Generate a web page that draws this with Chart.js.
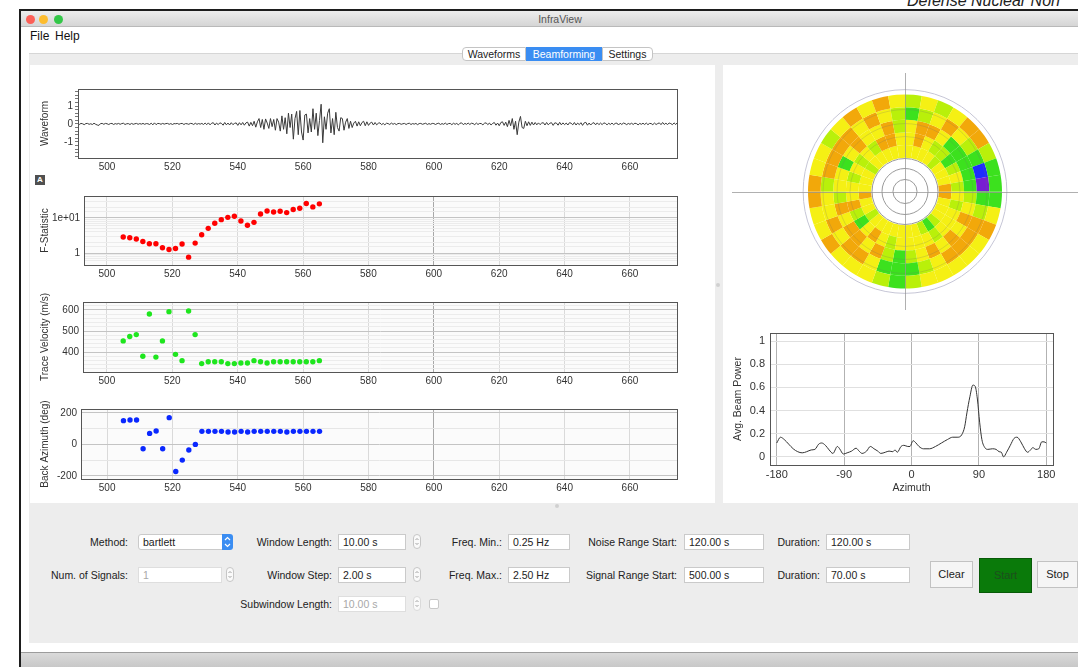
<!DOCTYPE html>
<html>
<head>
<meta charset="utf-8">
<title>InfraView</title>
<script src="https://cdn.jsdelivr.net/npm/chart.js@4.4.1/dist/chart.umd.min.js"></script>
<style>
body { margin: 0; width: 1078px; height: 667px; overflow: hidden; background: #fff; position: relative; font-family: "Liberation Sans", Arial, sans-serif; color: #222; }
div, canvas { position: absolute; box-sizing: border-box; }
.dn { left: 907px; top: -8px; font-size: 16px; font-style: italic; color: #222; white-space: nowrap; }
.win { left: 19px; top: 9px; width: 1080px; height: 680px; border-left: 2px solid #1d1d1d; border-top: 2px solid #1d1d1d; background: #fff; }
.titlebar { left: 21px; top: 11px; width: 1060px; height: 16px; background: linear-gradient(#ededed, #d5d5d5); border-bottom: 1px solid #b9b9b9; }
.dot { width: 9px; height: 9px; border-radius: 50%; top: 15px; }
.ttl { left: 530px; top: 13px; width: 60px; text-align: center; font-size: 10.5px; color: #555; }
.menu { top: 29px; font-size: 12px; color: #111; }
.pane { left: 29px; top: 53px; width: 1060px; height: 590px; background: #ededed; border-top: 1px solid #d6d6d6; }
.panel { background: #fff; top: 65px; height: 438px; }
.tab { top: 47px; height: 14px; border: 1px solid #c4c4c4; background: #fff; font-size: 10.5px; text-align: center; line-height: 12px; color: #222; }
.tab.on { background: #3a8df2; border-color: #3a8df2; color: #fff; }
.lbl { font-size: 10.5px; text-align: right; height: 16px; line-height: 16px; color: #222; white-space: nowrap; }
.inp { height: 16px; border: 1px solid #cacaca; background: #fff; font-size: 10.5px; line-height: 14px; padding-left: 4px; color: #222; }
.inp.off { color: #a8a8a8; border-color: #dedede; }
.spin { width: 8px; height: 15px; border: 1px solid #c6c6c6; border-radius: 4px; background: #fafafa; }
.btn { height: 27px; border: 1px solid #c2c2c2; background: #f5f5f5; font-size: 11px; text-align: center; line-height: 25px; color: #222; }
.status { left: 21px; top: 652px; width: 1060px; height: 15px; border-top: 1px solid #9c9c9c; background: linear-gradient(#dadada, #c8c8c8); }
</style>
</head>
<body>
<div class="dn">Defense Nuclear Non</div>
<div class="win"></div>
<div class="titlebar"></div>
<div class="dot" style="left:26px;background:#fc5f57"></div>
<div class="dot" style="left:39px;background:#fdbc2e"></div>
<div class="dot" style="left:54px;background:#33c748"></div>
<div class="ttl">InfraView</div>
<div class="menu" style="left:30px">File</div>
<div class="menu" style="left:55px">Help</div>

<div class="pane"></div>
<div class="panel" style="left:30px;width:685px"></div>
<div class="panel" style="left:723px;width:360px"></div>
<div class="tab" style="left:462px;width:64px;border-radius:4px 0 0 4px">Waveforms</div>
<div class="tab on" style="left:526px;width:76px">Beamforming</div>
<div class="tab" style="left:602px;width:51px;border-radius:0 4px 4px 0">Settings</div>
<div style="left:716px;top:283px;width:4px;height:4px;background:#d0d0d0;border-radius:2px"></div>
<div style="left:555px;top:504px;width:4px;height:4px;background:#d0d0d0;border-radius:2px"></div>

<canvas id="waveChart" width="686" height="103" style="left:29px;top:77px"></canvas>
<div style="left:35px;top:175px;width:10px;height:10px;background:#505050;color:#fff;font-size:8px;font-weight:bold;text-align:center;line-height:10px">A</div>
<canvas id="fstatChart" width="686" height="103" style="left:29px;top:184px"></canvas>
<canvas id="velChart" width="686" height="104" style="left:29px;top:290px"></canvas>
<canvas id="bazChart" width="686" height="104" style="left:29px;top:397px"></canvas>
<canvas id="polarChart" width="355" height="253" style="left:723px;top:65px"></canvas>
<canvas id="beamChart" width="355" height="183" style="left:723px;top:320px"></canvas>

<!-- controls -->
<div class="lbl" style="left:40px;width:88px;top:534px">Method:</div>
<div class="inp" style="left:138px;top:534px;width:85px;border-radius:3px 0 0 3px">bartlett</div>
<div style="left:222px;top:534px;width:11px;height:16px;background:#3a8df2;border-radius:0 3px 3px 0">
  <svg width="11" height="16" style="position:absolute;left:0;top:0"><polyline points="3,6 5.5,3.5 8,6" fill="none" stroke="#fff" stroke-width="1.2"/><polyline points="3,10 5.5,12.5 8,10" fill="none" stroke="#fff" stroke-width="1.2"/></svg>
</div>
<div class="lbl" style="left:30px;width:98px;top:567px">Num. of Signals:</div>
<div class="inp off" style="left:138px;top:567px;width:84px">1</div>
<div class="spin" style="left:226px;top:567px"></div>

<div class="lbl" style="left:230px;width:102px;top:534px">Window Length:</div>
<div class="inp" style="left:338px;top:534px;width:68px">10.00 s</div>
<div class="spin" style="left:413px;top:534px"></div>
<div class="lbl" style="left:230px;width:102px;top:567px">Window Step:</div>
<div class="inp" style="left:338px;top:567px;width:68px">2.00 s</div>
<div class="spin" style="left:413px;top:567px"></div>
<div class="lbl" style="left:230px;width:102px;top:596px">Subwindow Length:</div>
<div class="inp off" style="left:338px;top:596px;width:68px">10.00 s</div>
<div class="spin" style="left:413px;top:596px;border-color:#dadada"></div>
<div style="left:429px;top:599px;width:10px;height:10px;border:1px solid #c8c8c8;border-radius:2px;background:#fff"></div>

<div class="lbl" style="left:430px;width:72px;top:534px">Freq. Min.:</div>
<div class="inp" style="left:508px;top:534px;width:62px">0.25 Hz</div>
<div class="lbl" style="left:430px;width:72px;top:567px">Freq. Max.:</div>
<div class="inp" style="left:508px;top:567px;width:62px">2.50 Hz</div>

<div class="lbl" style="left:570px;width:107px;top:534px">Noise Range Start:</div>
<div class="inp" style="left:684px;top:534px;width:80px">120.00 s</div>
<div class="lbl" style="left:570px;width:107px;top:567px">Signal Range Start:</div>
<div class="inp" style="left:684px;top:567px;width:80px">500.00 s</div>

<div class="lbl" style="left:770px;width:50px;top:534px">Duration:</div>
<div class="inp" style="left:826px;top:534px;width:84px">120.00 s</div>
<div class="lbl" style="left:770px;width:50px;top:567px">Duration:</div>
<div class="inp" style="left:826px;top:567px;width:84px">70.00 s</div>

<div class="btn" style="left:930px;top:561px;width:43px">Clear</div>
<div class="btn" style="left:979px;top:558px;width:53px;height:35px;line-height:33px;background:#0a7a0a;border-color:#075a07;color:#1d4f1d">Start</div>
<div class="btn" style="left:1037px;top:561px;width:41px">Stop</div>

<div class="status"></div>

<script>
Chart.defaults.animation = false;
Chart.defaults.font.family = "'Liberation Sans', Arial, sans-serif";
Chart.defaults.font.size = 10;
Chart.defaults.color = "#333";

// beamforming results, one value per analysis window
const scanTimes = [505, 507, 509, 511, 513, 515, 517, 519, 521, 523, 525, 527, 529, 531, 533, 535,
    537, 539, 541, 543, 545, 547, 549, 551, 553, 555, 557, 559, 561, 563, 565];
const fStat = [2.87, 2.74, 2.51, 2.15, 1.85, 1.85, 1.42, 1.27, 1.36, 1.81, 0.77, 1.93, 3.34, 5.06, 7.05, 8.93,
    10.4, 11.2, 8.2, 6.2, 7.5, 13.0, 15.8, 14.8, 15.5, 14.2, 17.3, 18.9, 25.7, 20.6, 25.1];
const traceVelocity = [453, 474, 483, 380, 581, 376, 453, 592, 389, 359, 595, 483, 345, 354, 354, 354,
    345, 345, 348, 348, 359, 354, 348, 354, 354, 354, 354, 354, 354, 354, 359];
const backAzimuth = [151, 155, 155, -28, 70, 85, -28, 170, -172, -100, -36, 0, 83, 83, 83, 83,
    79, 79, 83, 79, 83, 83, 83, 83, 83, 79, 83, 83, 83, 83, 83];

// waveform, sampled every 0.5 s from 491 s
const waveStart = 491;
const waveStep = 0.5;
const waveValues = [
    0.02, -0.03, 0.03, 0.01, -0.04, 0.02, 0.03, -0.02, 0.01, -0.03, 0.04, -0.02, -0.06, -0.08, 0.02, 0.03, -0.02, 0.03, 0.01, -0.03,
    0.02, 0.03, -0.03, 0.02, -0.01, 0.03, -0.02, 0.02, 0.04, -0.03, 0.01, 0.02, -0.03, 0.03, -0.02, 0.01, 0.03, -0.02, 0.02, -0.01,
    0.03, -0.02, 0.02, 0.01, -0.03, 0.04, -0.05, 0.06, -0.04, 0.03, 0.02, -0.02, 0.03, -0.01, 0.02, 0.03, -0.02, 0.02, -0.03, 0.02,
    0.01, 0.03, -0.02, 0.02, 0.03, -0.03, 0.02, 0.01, -0.02, 0.03, 0.02, -0.03, 0.04, -0.02, 0.02, -0.01, 0.03, -0.03, 0.05, -0.04,
    0.06, -0.05, 0.04, 0.07, -0.06, 0.05, -0.04, 0.06, 0.03, -0.07, 0.08, -0.05, 0.05, -0.06, 0.07, -0.04, 0.03, 0.06, -0.08, 0.07,
    -0.05, 0.08, -0.07, 0.06, 0.1, -0.12, 0.09, -0.1, 0.15, -0.18, 0.12, 0.3, -0.2, 0.25, -0.3, 0.28, 0.05, -0.25, 0.3, -0.15,
    0.25, -0.35, 0.3, 0.1, -0.4, 0.45, -0.3, 0.35, -0.55, 0.6, -0.2, 0.55, -0.85, 0.3, 0.7, -0.6, 0.75, -0.45, -0.9, 0.5,
    0.55, -0.5, 0.3, -0.45, 0.85, -0.3, 0.6, -0.65, 0.2, 1.1, -1.05, 0.4, -0.3, 0.6, 0.85, -0.5, 0.3, -0.6, 0.65, -0.2,
    -0.4, 0.35, 0.3, -0.35, 0.1, 0.3, -0.25, 0.15, -0.2, 0.05, 0.15, -0.12, 0.12, -0.1, 0.08, 0.15, -0.1, 0.12, -0.08, 0.05,
    0.1, -0.06, 0.08, -0.05, 0.04, 0.06, -0.04, 0.03, -0.05, 0.04, 0.02, -0.03, 0.05, -0.02, 0.03, -0.04, 0.02, 0.03, -0.02, 0.01,
    0.03, -0.03, 0.02, 0.04, -0.03, 0.02, -0.01, 0.03, -0.04, 0.02, 0.03, -0.02, 0.01, 0.04, -0.03, 0.02, -0.02, 0.03, 0.02, -0.03,
    0.02, 0.04, -0.03, 0.02, -0.02, 0.05, -0.03, 0.02, 0.03, -0.04, 0.04, -0.02, 0.03, -0.05, 0.04, 0.06, -0.04, 0.03, -0.02, 0.05,
    -0.03, 0.04, 0.02, -0.04, 0.05, -0.03, 0.03, 0.02, -0.05, 0.04, 0.06, -0.04, 0.05, -0.06, 0.03, 0.08, -0.07, 0.05, -0.1, 0.08,
    0.12, -0.08, 0.1, -0.15, 0.2, -0.1, 0.3, -0.3, 0.15, -0.6, 0.1, 0.42, -0.2, -0.25, 0.15, -0.1, 0.12, -0.08, 0.1, -0.06,
    0.08, -0.05, 0.06, -0.04, 0.05, 0.07, -0.06, 0.08, -0.05, 0.04, 0.07, -0.08, 0.06, 0.05, -0.07, 0.09, -0.05, 0.06, -0.04, 0.05,
    -0.06, 0.07, 0.04, -0.05, 0.08, -0.06, 0.05, -0.04, 0.07, -0.08, 0.06, 0.09, -0.07, 0.05, -0.06, 0.04, 0.07, -0.05, 0.06, -0.04,
    0.05, -0.04, 0.06, 0.03, -0.05, 0.04, -0.03, 0.05, -0.04, 0.03, 0.05, -0.06, 0.04, -0.03, 0.05, 0.02, -0.04, 0.03, -0.02, 0.04,
    -0.03, 0.04, 0.02, -0.05, 0.03, -0.02, 0.04, -0.03, 0.05, -0.04, 0.03, 0.02, -0.04, 0.05, -0.03, 0.02, 0.06, -0.04, 0.08, -0.03,
    0.04, -0.03, 0.05, 0.02, -0.04, 0.06, -0.03, 0.07, -0.02, 0.05, 0.04
];

// average beam power vs azimuth
const beamAz = [-180, -175, -170, -164, -158, -152, -146, -140, -134, -129, -124, -120, -115, -110, -105, -99,
    -96, -91, -86, -80, -74, -70, -66, -60, -55, -50, -45, -41, -35, -30, -25, -22, -19, -14, -10, -5, -2,
    2, 6, 10, 16, 24, 32, 40, 48, 55, 62, 67, 71, 74, 78, 82, 85, 88, 91, 94, 98, 102, 108, 113, 117, 120,
    123, 127, 132, 137, 141, 146, 151, 155, 159, 162, 166, 170, 174, 177, 180];
const beamPower = [0.12, 0.17, 0.15, 0.11, 0.07, 0.045, 0.035, 0.045, 0.06, 0.065, 0.11, 0.12, 0.1, 0.06, 0.03, 0.09,
    0.07, 0.025, 0.035, 0.05, 0.075, 0.05, 0.03, 0.05, 0.09, 0.07, 0.05, 0.03, 0.04, 0.05, 0.045, 0.06, 0.04, 0.09, 0.1, 0.09, 0.09,
    0.14, 0.12, 0.09, 0.07, 0.07, 0.09, 0.12, 0.15, 0.17, 0.17, 0.19, 0.26, 0.38, 0.52, 0.62, 0.61, 0.5, 0.3, 0.15, 0.08, 0.065, 0.07, 0.065, 0.045, 0.04,
    0.0, 0.04, 0.1, 0.16, 0.17, 0.13, 0.07, 0.04, 0.06, 0.08, 0.065, 0.07, 0.13, 0.13, 0.12];

// slowness-azimuth beam power, 10 deg sectors clockwise from north, inner ring to outer ring
const ring1 = [0.4, 0.4, 0.4, 0.4, 0.55, 0.4, 0.4, 0.4, 0.2, 0.2, 0.4, 0.4, 0.4, 0.55, 0.7, 0.55, 0.4, 0.4,
    0.4, 0.4, 0.4, 0.4, 0.4, 0.55, 0.4, 0.4, 0.2, 0.4, 0.4, 0.4, 0.55, 0.4, 0.4, 0.4, 0.4, 0.4];
const ring2 = [0.4, 0.2, 0.4, 0.55, 0.55, 0.7, 0.55, 0.4, 0.55, 0.4, 0.55, 0.4, 0.4, 0.4, 0.55, 0.4, 0.4, 0.4,
    0.4, 0.55, 0.4, 0.2, 0.4, 0.7, 0.55, 0.2, 0.4, 0.4, 0.55, 0.4, 0.55, 0.4, 0.55, 0.2, 0.2, 0.4];
const ring3 = [0.4, 0.2, 0.2, 0.4, 0.7, 0.7, 0.7, 0.7, 0.7, 0.55, 0.4, 0.2, 0.4, 0.2, 0.4, 0.2, 0.4, 0.55,
    0.7, 0.55, 0.2, 0.4, 0.2, 0.2, 0.4, 0.2, 0.55, 0.4, 0.4, 0.7, 0.4, 0.2, 0.4, 0.4, 0.2, 0.55];
const ring4 = [0.7, 0.55, 0.4, 0.2, 0.4, 0.55, 0.7, 0.9, 1.0, 0.7, 0.55, 0.2, 0.2, 0.2, 0.2, 0.4, 0.55, 0.7,
    0.7, 0.7, 0.4, 0.2, 0.2, 0.4, 0.2, 0.4, 0.4, 0.55, 0.2, 0.2, 0.2, 0.2, 0.4, 0.2, 0.4, 0.55];
const ring5 = [0.55, 0.4, 0.55, 0.4, 0.2, 0.2, 0.55, 0.7, 0.7, 0.7, 0.4, 0.2, 0.4, 0.4, 0.4, 0.4, 0.4, 0.55,
    0.7, 0.55, 0.4, 0.4, 0.4, 0.2, 0.4, 0.4, 0.2, 0.2, 0.4, 0.4, 0.55, 0.4, 0.2, 0.4, 0.2, 0.4];

// colour stops for the polar map
const mapStops = [[0.2, [242, 168, 10]], [0.4, [245, 240, 20]], [0.55, [185, 240, 10]], [0.7, [60, 225, 30]],
    [0.9, [30, 45, 255]], [1.0, [120, 30, 210]]];

function mapColor(v) {
    for (let i = 1; i < mapStops.length; i++) {
        if (v <= mapStops[i][0]) {
            const a = mapStops[i - 1], b = mapStops[i];
            const f = Math.max(0, (v - a[0]) / (b[0] - a[0]));
            const c = a[1].map((k, j) => Math.round(k + (b[1][j] - k) * f));
            return "rgb(" + c.join(",") + ")";
        }
    }
    return "rgb(120,30,210)";
}

// up/down arrows for the spin boxes
document.querySelectorAll(".spin").forEach((el) => {
    el.innerHTML = '<svg width="6" height="13" style="position:absolute;left:0;top:0">' +
        '<polyline points="1.5,5 3,3.5 4.5,5" fill="none" stroke="#999" stroke-width="0.9"/>' +
        '<polyline points="1.5,8 3,9.5 4.5,8" fill="none" stroke="#999" stroke-width="0.9"/></svg>';
});

// plot background and box outline
const framePlugin = {
    id: "frame",
    beforeDraw(chart, args, opts) {
        if (!opts.fill) return;
        const a = chart.chartArea;
        const ctx = chart.ctx;
        ctx.save();
        ctx.fillStyle = opts.fill;
        ctx.fillRect(a.left, a.top, a.right - a.left, a.bottom - a.top);
        ctx.restore();
    },
    afterDraw(chart, args, opts) {
        if (!opts.stroke) return;
        const a = chart.chartArea;
        const ctx = chart.ctx;
        ctx.save();
        ctx.strokeStyle = opts.stroke;
        ctx.lineWidth = 1;
        ctx.strokeRect(Math.round(a.left) + 0.5, Math.round(a.top) + 0.5, Math.round(a.right - a.left), Math.round(a.bottom - a.top));
        ctx.restore();
    },
};

function isDecade(v) {
    const l = Math.log10(v);
    return Math.abs(l - Math.round(l)) < 1e-6;
}

const sidePad = { left: 10, right: 38, top: 12, bottom: 6 };

function timeAxis(xmin) {
    return {
        type: "linear",
        min: xmin,
        max: 674.4,
        ticks: { stepSize: 20, includeBounds: false, autoSkip: false, maxRotation: 0, padding: 3, color: "#333" },
        grid: {
            drawTicks: false,
            color: (c) => (c.tick && c.tick.value === 600 ? "#a8a8a8" : "#dadada"),
        },
        border: { color: "#555" },
        afterFit(axis) {
            axis.height = 16;
            axis.paddingLeft = 0;
            axis.paddingRight = 0;
        },
    };
}

function scatterChart(id, values, color, xmin, plotLeft, yAxis) {
    yAxis.afterFit = (axis) => {
        axis.width = plotLeft - 39;
        axis.paddingTop = 0;
        axis.paddingBottom = 0;
    };
    return new Chart(document.getElementById(id), {
        type: "scatter",
        data: {
            datasets: [
                {
                    data: scanTimes.map((t, i) => ({ x: t, y: values[i] })),
                    backgroundColor: color,
                    borderWidth: 0,
                    pointRadius: 2.7,
                },
            ],
        },
        options: {
            responsive: false,
            events: [],
            layout: { padding: sidePad },
            plugins: { legend: { display: false }, tooltip: { enabled: false }, frame: { fill: "#fbfbfb", stroke: "#555" } },
            scales: { x: timeAxis(xmin), y: yAxis },
        },
        plugins: [framePlugin],
    });
}

const waveX = timeAxis(491.1);
waveX.grid = { display: false, drawTicks: false };

new Chart(document.getElementById("waveChart"), {
    type: "line",
    data: {
        datasets: [
            {
                data: waveValues.map((v, i) => ({ x: waveStart + i * waveStep, y: v })),
                borderColor: "#3a3a3a",
                borderWidth: 1,
                pointRadius: 0,
                tension: 0,
            },
        ],
    },
    options: {
        responsive: false,
        events: [],
        layout: { padding: sidePad },
        plugins: { legend: { display: false }, tooltip: { enabled: false }, frame: { stroke: "#555" } },
        scales: {
            x: waveX,
            y: {
                min: -1.9,
                max: 1.95,
                title: { display: true, text: "Waveform", padding: 0, color: "#333" },
                ticks: {
                    stepSize: 0.2,
                    includeBounds: false,
                    autoSkip: false,
                    padding: 2,
                    callback: (v) => (Math.abs(v - Math.round(v)) < 1e-6 ? String(Math.round(v)) : ""),
                },
                grid: { drawOnChartArea: false, tickLength: 3, color: "#777" },
                border: { color: "#555" },
                afterFit(axis) {
                    axis.width = 78 - 39;
                    axis.paddingTop = 0;
                    axis.paddingBottom = 0;
                },
            },
        },
    },
    plugins: [framePlugin],
});

scatterChart("fstatChart", fStat, "#ff0000", 493.0, 84, {
    type: "logarithmic",
    min: 0.46,
    max: 42,
    title: { display: true, text: "F-Statistic", padding: 0, color: "#333" },
    ticks: {
        autoSkip: false,
        padding: 4,
        callback: (v) => (Math.abs(v - 1) < 1e-9 ? "1" : Math.abs(v - 10) < 1e-9 ? "1e+01" : ""),
    },
    grid: { drawTicks: false, color: (c) => (c.tick && isDecade(c.tick.value) ? "#c4c4c4" : "#ececec") },
    border: { color: "#555" },
});

scatterChart("velChart", traceVelocity, "#1ee61e", 492.7, 83, {
    min: 305,
    max: 638,
    title: { display: true, text: "Trace Velocity (m/s)", padding: 0, color: "#333" },
    ticks: {
        stepSize: 20,
        includeBounds: false,
        autoSkip: false,
        padding: 4,
        callback: (v) => (v % 100 === 0 ? String(v) : ""),
    },
    grid: { drawTicks: false, color: (c) => (c.tick && c.tick.value % 100 === 0 ? "#c4c4c4" : "#ececec") },
    border: { color: "#555" },
});

scatterChart("bazChart", backAzimuth, "#0a28ff", 492.0, 81, {
    min: -220,
    max: 225,
    title: { display: true, text: "Back Azimuth (deg)", padding: 0, color: "#333" },
    ticks: {
        stepSize: 100,
        includeBounds: false,
        autoSkip: false,
        padding: 4,
        callback: (v) => (v % 200 === 0 ? String(v) : ""),
    },
    grid: { drawTicks: false, color: (c) => (c.tick && c.tick.value % 200 === 0 ? "#c4c4c4" : "#e6e6e6") },
    border: { color: "#555" },
});

// crosshair and slowness circles over the polar map
const polarGridPlugin = {
    id: "polarGrid",
    afterDatasetsDraw(chart) {
        const arc = chart.getDatasetMeta(0).data[0];
        if (!arc) return;
        const cx = arc.x, cy = arc.y, r = arc.outerRadius;
        const a = chart.chartArea;
        const ctx = chart.ctx;
        ctx.save();
        ctx.lineWidth = 1;
        [0.124, 0.237, 0.34].forEach((f) => {
            ctx.strokeStyle = "#9a9a9a";
            ctx.beginPath();
            ctx.arc(cx, cy, r * f, 0, Math.PI * 2);
            ctx.stroke();
        });
        [0.567, 0.7, 0.845].forEach((f) => {
            ctx.strokeStyle = "rgba(110,110,110,0.22)";
            ctx.beginPath();
            ctx.arc(cx, cy, r * f, 0, Math.PI * 2);
            ctx.stroke();
        });
        ctx.strokeStyle = "#c6c6d6";
        ctx.beginPath();
        ctx.arc(cx, cy, r * 1.05, 0, Math.PI * 2);
        ctx.stroke();
        ctx.strokeStyle = "rgba(150,150,150,0.75)";
        ctx.beginPath();
        ctx.moveTo(a.left, Math.round(cy) + 0.5);
        ctx.lineTo(a.right, Math.round(cy) + 0.5);
        ctx.moveTo(Math.round(cx) + 0.5, a.top + 8);
        ctx.lineTo(Math.round(cx) + 0.5, a.bottom - 8);
        ctx.stroke();
        ctx.restore();
    },
};

new Chart(document.getElementById("polarChart"), {
    type: "doughnut",
    data: {
        datasets: [ring5, ring4, ring3, ring2, ring1].map((ring) => ({
            data: ring.map(() => 1),
            backgroundColor: ring.map((v) => mapColor(v)),
            borderWidth: 0,
        })),
    },
    options: {
        responsive: false,
        events: [],
        radius: 97,
        cutout: 44,
        layout: { padding: { left: 9 } },
        plugins: { legend: { display: false }, tooltip: { enabled: false } },
    },
    plugins: [polarGridPlugin],
});

new Chart(document.getElementById("beamChart"), {
    type: "line",
    data: {
        datasets: [
            {
                data: beamAz.map((az, i) => ({ x: az, y: beamPower[i] })),
                borderColor: "#333",
                borderWidth: 1,
                pointRadius: 0,
                cubicInterpolationMode: "monotone",
            },
        ],
    },
    options: {
        responsive: false,
        events: [],
        layout: { padding: { left: 9, right: 25, top: 13, bottom: 0 } },
        plugins: { legend: { display: false }, tooltip: { enabled: false }, frame: { stroke: "#555" } },
        scales: {
            x: {
                type: "linear",
                min: -189,
                max: 189,
                title: { display: true, text: "Azimuth", padding: { top: 0, bottom: 9 }, color: "#333", font: { size: 10.5 } },
                ticks: { stepSize: 90, includeBounds: false, autoSkip: false, maxRotation: 0, padding: 3, font: { size: 11 } },
                grid: { drawTicks: false, color: "#b2b2b2" },
                border: { color: "#555" },
                afterFit(axis) {
                    axis.height = 38;
                    axis.paddingLeft = 0;
                    axis.paddingRight = 0;
                },
            },
            y: {
                min: -0.07,
                max: 1.07,
                title: { display: true, text: "Avg. Beam Power", padding: 0, color: "#333", font: { size: 10.5 } },
                ticks: {
                    stepSize: 0.2,
                    includeBounds: false,
                    autoSkip: false,
                    padding: 5,
                    font: { size: 11 },
                    callback: (v) => String(Math.round(v * 10) / 10),
                },
                grid: { drawTicks: false, color: "#e0e0e0" },
                border: { color: "#555" },
                afterFit(axis) {
                    axis.width = 38;
                    axis.paddingTop = 0;
                    axis.paddingBottom = 0;
                },
            },
        },
    },
    plugins: [framePlugin],
});
</script>
</body>
</html>
